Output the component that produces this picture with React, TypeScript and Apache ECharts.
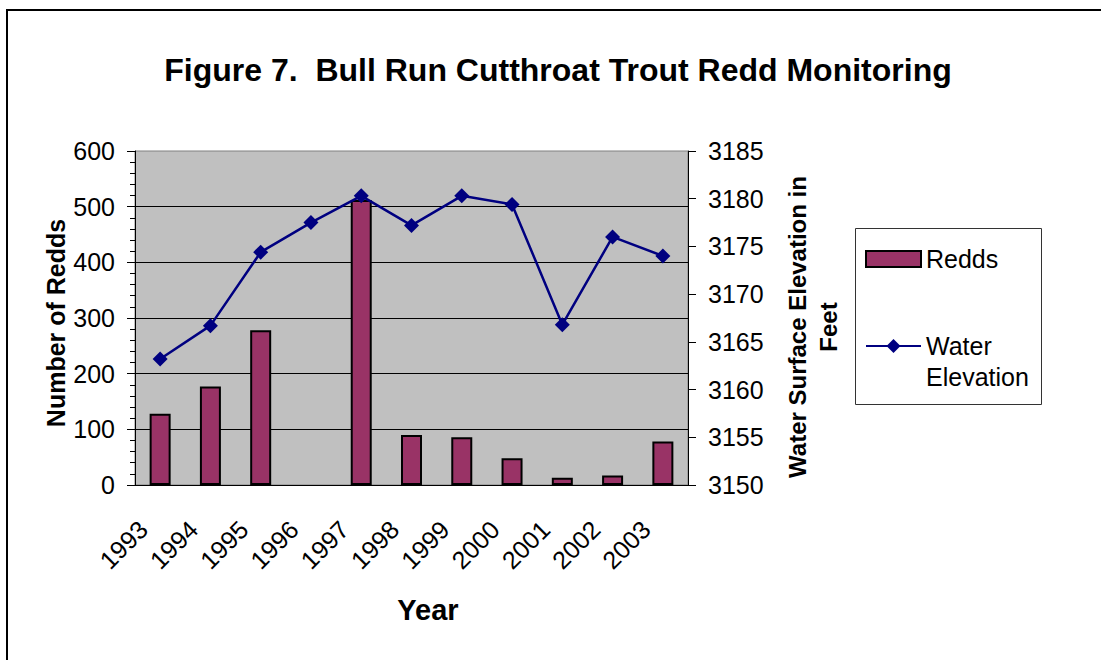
import React, { useEffect, useRef } from "react";
import * as echarts from "echarts";

// Survey years and counts
const years = ["1993", "1994", "1995", "1996", "1997", "1998", "1999", "2000", "2001", "2002", "2003"];
// Redd counts (no count for 1996)
const redds: (number | null)[] = [128, 177, 278, null, 512, 90, 86, 48, 13, 17, 78];
// Reservoir water surface elevation, feet
const elevation = [3163.2, 3166.7, 3174.4, 3177.5, 3180.3, 3177.2, 3180.3, 3179.4, 3166.8, 3176.0, 3174.0];

const FONT = "'Liberation Sans', Arial, Helvetica, sans-serif";

export default function App() {
  const ref = useRef<HTMLDivElement>(null);

  useEffect(() => {
    if (!ref.current) return;
    const chart = echarts.init(ref.current, null, { renderer: "svg" });
    chart.setOption({
      animation: false,
      backgroundColor: "#ffffff",
      textStyle: { fontFamily: FONT, color: "#000" },
      grid: {
        left: 135,
        right: 413,
        top: 151,
        bottom: 175,
        show: true,
        backgroundColor: "#c0c0c0",
        borderColor: "#808080",
        borderWidth: 1,
        outerBoundsMode: "none",
      },
      legend: [
        {
          data: ["Redds"],
          orient: "vertical",
          left: 865,
          top: 244,
          padding: 0,
          itemWidth: 55,
          itemHeight: 16,
          icon: "rect",
          textStyle: { fontFamily: FONT, fontSize: 25, lineHeight: 30, color: "#000" },
        },
        {
          data: ["Water Elevation"],
          orient: "vertical",
          left: 865,
          top: 299.5,
          padding: 0,
          itemWidth: 55,
          itemHeight: 17.5,
          // leading blank line keeps "Water" level with the marker
          formatter: () => " \nWater\nElevation",
          textStyle: {
            fontFamily: FONT,
            fontSize: 25,
            lineHeight: 31,
            color: "#000",
          },
        },
      ],
      xAxis: {
        type: "category",
        data: years,
        boundaryGap: true,
        axisLine: { show: true, lineStyle: { color: "#000", width: 1 } },
        axisTick: { show: false },
        axisLabel: {
          interval: 0,
          rotate: 45,
          fontSize: 25,
          color: "#000",
          fontFamily: FONT,
          margin: 23,
          padding: [0, 24, 0, 0],
        },
        splitLine: { show: false },
      },
      yAxis: [
        {
          type: "value",
          position: "left",
          min: 0,
          max: 600,
          interval: 100,
          axisLine: { show: true, lineStyle: { color: "#000", width: 1 } },
          axisTick: { show: true, length: 8, lineStyle: { color: "#000" } },
          minorTick: { show: true, splitNumber: 5, length: 5, lineStyle: { color: "#000" } },
          splitLine: {
            show: true,
            showMinLine: false,
            showMaxLine: false,
            lineStyle: { color: "#000", width: 1 },
          },
          axisLabel: { fontSize: 25, color: "#000", margin: 20, fontFamily: FONT },
        },
        {
          type: "value",
          position: "right",
          min: 3150,
          max: 3185,
          interval: 5,
          axisLine: { show: true, lineStyle: { color: "#000", width: 1 } },
          axisTick: { show: true, length: 8, lineStyle: { color: "#000" } },
          splitLine: { show: false },
          axisLabel: {
            fontSize: 25,
            color: "#000",
            margin: 20,
            fontFamily: FONT,
            formatter: (v: number) => String(v),
          },
        },
      ],
      series: [
        {
          name: "Redds",
          type: "bar",
          yAxisIndex: 0,
          data: redds,
          barWidth: 21,
          itemStyle: { color: "#993366", borderColor: "#000", borderWidth: 2 },
          z: 2,
        },
        {
          name: "Water Elevation",
          type: "line",
          yAxisIndex: 1,
          data: elevation,
          symbol: "diamond",
          symbolSize: 15,
          lineStyle: { color: "#000080", width: 2.5 },
          itemStyle: { color: "#000080" },
          z: 3,
        },
      ],
      graphic: [
        {
          type: "rect",
          silent: true,
          shape: { x: 7, y: 10, width: 1200, height: 800 },
          style: { fill: "none", stroke: "#000", lineWidth: 2 },
        },
        {
          type: "rect",
          silent: true,
          z: -1,
          shape: { x: 855.5, y: 228.5, width: 186, height: 176 },
          style: { fill: "none", stroke: "#333", lineWidth: 1 },
        },
        {
          type: "text",
          x: 558,
          y: 70,
          style: {
            text: "Figure 7.  Bull Run Cutthroat Trout Redd Monitoring",
            font: `bold 32px ${FONT}`,
            fill: "#000",
            align: "center",
            verticalAlign: "middle",
          },
        },
        {
          type: "text",
          x: 428,
          y: 610,
          style: {
            text: "Year",
            font: `bold 29px ${FONT}`,
            fill: "#000",
            align: "center",
            verticalAlign: "middle",
          },
        },
        {
          type: "text",
          x: 56,
          y: 323,
          rotation: Math.PI / 2,
          style: {
            text: "Number of Redds",
            font: `bold 25px ${FONT}`,
            fill: "#000",
            align: "center",
            verticalAlign: "middle",
          },
        },
        {
          type: "text",
          x: 797,
          y: 327,
          rotation: Math.PI / 2,
          style: {
            text: "Water Surface Elevation in",
            font: `bold 24px ${FONT}`,
            fill: "#000",
            align: "center",
            verticalAlign: "middle",
          },
        },
        {
          type: "text",
          x: 828,
          y: 327,
          rotation: Math.PI / 2,
          style: {
            text: "Feet",
            font: `bold 24px ${FONT}`,
            fill: "#000",
            align: "center",
            verticalAlign: "middle",
          },
        },
      ],
    });
    return () => chart.dispose();
  }, []);

  return (
    <div
      ref={ref}
      style={{ position: "fixed", left: 0, top: 0, width: 1101, height: 660 }}
    />
  );
}
